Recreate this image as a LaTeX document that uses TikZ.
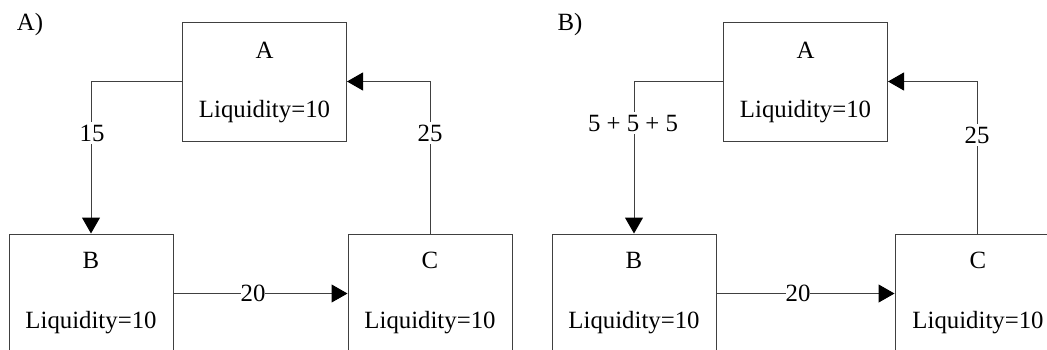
\documentclass[tikz,border=0pt]{standalone}
\usepackage{fontspec}
\setmainfont{Liberation Serif}
\usetikzlibrary{arrows.meta}
\begin{document}
\begin{tikzpicture}[x=0.5pt,y=-0.5pt, font=\fontsize{12.4}{15}\selectfont,
  box/.style={draw=black!75, line width=0.5pt, minimum width=82pt, minimum height=59.5pt, inner sep=0pt},
  flow/.style={draw=black!75, line width=0.5pt, -{Triangle[length=8pt,width=9pt,fill=black,color=black]}},
  conn/.style={draw=black!75, line width=0.5pt},
  lbl/.style={fill=white, inner sep=1.5pt},
  lblh/.style={fill=white, inner xsep=0pt, inner ysep=1pt},
  txt/.style={inner sep=0pt}]
\useasboundingbox (0,0) rectangle (1047,349);
\clip (0,0) rectangle (1047,349);
% Panel A
\node[txt] (pa) at (30,25) {A)};
\node[box] (A1) at (264.5,81.5) {};
\node[box] (B1) at (91,293.5) {};
\node[box] (C1) at (430,293.5) {};
\node[txt] (A1t) at (264.5,50) {A};
\node[txt] (A1l) at (264.5,112) {Liquidity=10};
\node[txt] (B1t) at (91,260) {B};
\node[txt] (B1l) at (91,323) {Liquidity=10};
\node[txt] (C1t) at (430,260) {C};
\node[txt] (C1l) at (430,323) {Liquidity=10};
\draw[flow] (A1.west) -| (B1.north);
\draw[flow] (C1.north) |- (A1.east);
\draw[flow] (B1.east) -- (C1.west);
\node[lbl] (l15) at (92,133) {15};
\node[lbl] (l25a) at (430,133) {25};
\node[lblh] (l20a) at (253,293) {20};
% Panel B
\node[txt] (pb) at (570,25) {B)};
\node[box] (A2) at (805.5,81.5) {};
\node[box] (B2) at (634,293.5) {};
\node[box] (C2) at (977,293.5) {};
\node[txt] (A2t) at (805.5,50) {A};
\node[txt] (A2l) at (805.5,112) {Liquidity=10};
\node[txt] (B2t) at (634,260) {B};
\node[txt] (B2l) at (634,323) {Liquidity=10};
\node[txt] (C2t) at (978,260) {C};
\node[txt] (C2l) at (978,323) {Liquidity=10};
\draw[flow] (A2.west) -| (B2.north);
\draw[flow] (C2.north) |- (A2.east);
\draw[flow] (B2.east) -- (C2.west);
\node[lbl] (l555) at (633,123) {5 + 5 + 5};
\node[lbl] (l25b) at (977,135) {25};
\node[lblh] (l20b) at (798,293) {20};
\end{tikzpicture}
\end{document}
